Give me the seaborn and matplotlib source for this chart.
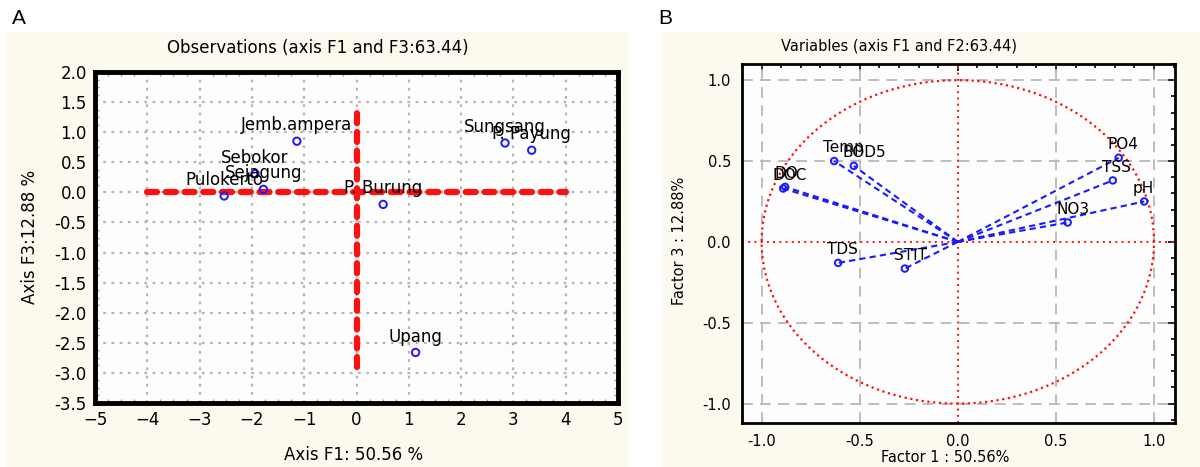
import numpy as np
import pandas as pd
import matplotlib
matplotlib.use("Agg")
import matplotlib.pyplot as plt
from matplotlib.patches import Rectangle
from matplotlib.ticker import MultipleLocator, FormatStrFormatter
import seaborn as sns

# ---- data ----
obs_names = ["Pulokerto", "Sebokor", "Sejagung", "Jemb.ampera", "P. Burung",
             "Sungsang", "P. Payung", "Upang"]
obs_f1 = [-2.53, -1.94, -1.78, -1.14, 0.51, 2.84, 3.35, 1.13]
obs_f3 = [-0.06, 0.31, 0.05, 0.85, -0.20, 0.82, 0.70, -2.66]

var_names = ["Temp", "BOD5", "DO", "DOC", "TDS", "STIT", "PO4", "TSS", "pH", "NO3"]
var_f1 = [-0.63, -0.53, -0.88, -0.89, -0.61, -0.27, 0.82, 0.79, 0.95, 0.56]
var_f3 = [0.50, 0.47, 0.34, 0.33, -0.13, -0.165, 0.52, 0.38, 0.25, 0.12]

# extent of the red axis lines on the observation plot
h_line_x = [-4.0, 4.0]
v_line_y = [-2.9, 1.4]

sns.set_style("white")
plt.rcParams['font.family'] = ['Liberation Sans Narrow', 'DejaVu Sans']
plt.rcParams['text.color'] = 'black'
plt.rcParams['xtick.color'] = 'black'
plt.rcParams['ytick.color'] = 'black'

CREAM = "#fcfaee"
BLUE = "#1a1aff"
RED = "#ff1010"

fig = plt.figure(figsize=(12, 4.67), dpi=100)

# cream panel backgrounds (behind the axes)
fig.patches.append(Rectangle((7 / 1200, 0), 621 / 1200, 435 / 467, transform=fig.transFigure,
                             facecolor=CREAM, edgecolor="none", zorder=-10))
fig.patches.append(Rectangle((663 / 1200, 0), 537 / 1200, 435 / 467, transform=fig.transFigure,
                             facecolor=CREAM, edgecolor="none", zorder=-10))

fig.text(12 / 1200, 1 - 18 / 467, "A", fontsize=15, family="Liberation Sans", va="center")
fig.text(658 / 1200, 1 - 18 / 467, "B", fontsize=15, family="Liberation Sans", va="center")

# =====================================================
# A: observations
# =====================================================
axA = fig.add_axes([95 / 1200, 1 - 403 / 467, 523 / 1200, 331 / 467])
axA.set_facecolor("#fdfdfd")
axA.set_xlim(-5, 5)
axA.set_ylim(-3.5, 2.0)
axA.xaxis.set_major_locator(MultipleLocator(1))
axA.yaxis.set_major_locator(MultipleLocator(0.5))
axA.xaxis.set_minor_locator(MultipleLocator(0.25))
axA.yaxis.set_minor_locator(MultipleLocator(0.125))
axA.yaxis.set_major_formatter(FormatStrFormatter("%.1f"))
axA.grid(True, which="major", color="#b4b4b4", linestyle=(0, (1.2, 2.5)), linewidth=1.6)
axA.tick_params(which="major", length=0, labelsize=12, pad=6)
axA.tick_params(which="minor", direction="in", length=3, width=1, color="#999999",
                top=True, right=True, bottom=True, left=True)
for sp in axA.spines.values():
    sp.set_linewidth(3.5)
    sp.set_color("black")

axA.plot(h_line_x, [0, 0], color=RED, linewidth=4.5, dashes=(1.6, 1.4),
         dash_capstyle="round", zorder=3)
axA.plot([0, 0], v_line_y, color=RED, linewidth=4.5, dashes=(1.6, 1.4),
         dash_capstyle="round", zorder=3)

obs = pd.DataFrame({"F1": obs_f1, "F3": obs_f3, "name": obs_names})
sns.scatterplot(data=obs, x="F1", y="F3", ax=axA, marker="o", s=28,
                facecolors="none", edgecolor=BLUE, linewidth=1.4, zorder=4)
for n, x, y in zip(obs_names, obs_f1, obs_f3):
    axA.annotate(n, (x, y), xytext=(0, 5), textcoords="offset points",
                 ha="center", va="bottom", fontsize=12, zorder=5)
axA.set_xlabel("")
axA.set_ylabel("")
fig.text(318 / 1200, 1 - 48 / 467, "Observations (axis F1 and F3:63.44)",
         ha="center", va="center", fontsize=12)
fig.text(354 / 1200, 1 - 455 / 467, "Axis F1: 50.56 %", ha="center", va="center", fontsize=12)
fig.text(30 / 1200, 1 - 237 / 467, "Axis F3:12.88 %", ha="center", va="center",
         rotation=90, fontsize=12)

# =====================================================
# B: variables (correlation circle)
# =====================================================
axB = fig.add_axes([742 / 1200, 1 - 423 / 467, 433 / 1200, 359 / 467])
axB.set_facecolor("#fdfdfd")
axB.set_xlim(-1.1, 1.107)
axB.set_ylim(-1.12, 1.10)
axB.xaxis.set_major_locator(MultipleLocator(0.5))
axB.yaxis.set_major_locator(MultipleLocator(0.5))
axB.xaxis.set_minor_locator(MultipleLocator(0.1))
axB.yaxis.set_minor_locator(MultipleLocator(0.1))
axB.xaxis.set_major_formatter(FormatStrFormatter("%.1f"))
axB.yaxis.set_major_formatter(FormatStrFormatter("%.1f"))
axB.tick_params(which="major", direction="in", length=5, width=1.2, labelsize=10.5,
                top=True, right=True, pad=8)
axB.tick_params(which="minor", direction="in", length=3, width=1.2,
                top=True, right=True)
for sp in axB.spines.values():
    sp.set_linewidth(2)
    sp.set_color("black")

for v in [-1.0, -0.5, 0.5, 1.0]:
    axB.axhline(v, color="#b8b8b8", linewidth=1.3, dashes=(6, 4), zorder=1)
    axB.axvline(v, color="#b8b8b8", linewidth=1.3, dashes=(6, 4), zorder=1)

t = np.linspace(0, 2 * np.pi, 400)
axB.plot(np.cos(t), np.sin(t), color=RED, linewidth=1.6, dashes=(1, 1.6), zorder=2)
axB.axhline(0, color=RED, linewidth=1.4, dashes=(1, 2.2), zorder=2)
axB.axvline(0, color=RED, linewidth=1.4, dashes=(1, 2.2), zorder=2)

for x, y in zip(var_f1, var_f3):
    axB.plot([0, x], [0, y], color=BLUE, linewidth=1.5, dashes=(3, 2), zorder=3)
var = pd.DataFrame({"F1": var_f1, "F3": var_f3})
sns.scatterplot(data=var, x="F1", y="F3", ax=axB, marker="o", s=22,
                facecolors="none", edgecolor=BLUE, linewidth=1.4, zorder=4)
# labels start just left of each point, as in the original software
for n, x, y in zip(var_names, var_f1, var_f3):
    axB.annotate(n, (x, y), xytext=(-8, 4), textcoords="offset points",
                 ha="left", va="bottom", fontsize=11, zorder=5)
axB.set_xlabel("")
axB.set_ylabel("")
fig.text(899 / 1200, 1 - 46 / 467, "Variables (axis F1 and F2:63.44)",
         ha="center", va="center", fontsize=10.5)
fig.text(945 / 1200, 1 - 458 / 467, "Factor 1 : 50.56%", ha="center", va="center", fontsize=10.5)
fig.text(679 / 1200, 1 - 241 / 467, "Factor 3 : 12.88%", ha="center", va="center",
         rotation=90, fontsize=10.5)

fig.savefig("out.png", dpi=100, facecolor="white")
